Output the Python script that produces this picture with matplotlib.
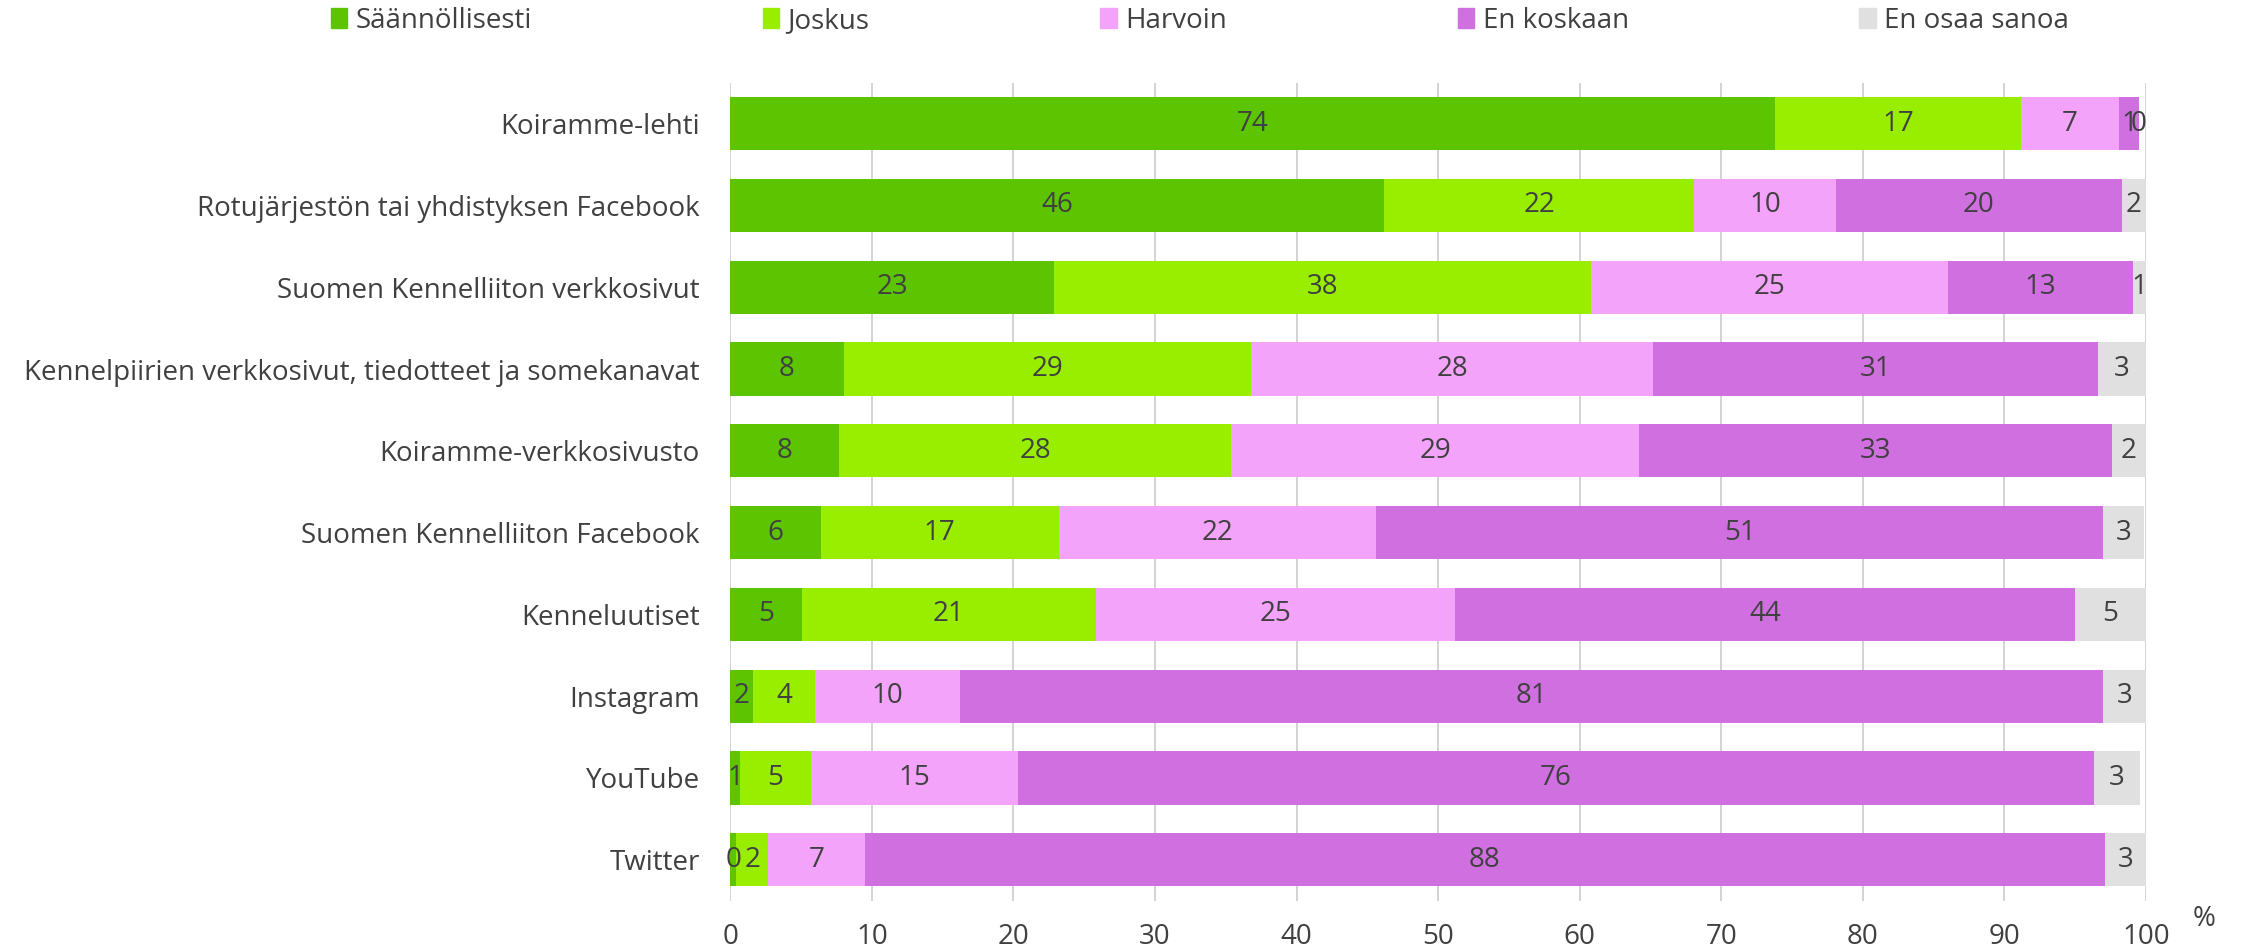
import matplotlib.pyplot as plt
from matplotlib.patches import Patch

plt.rcParams['font.family'] = ['Open Sans', 'DejaVu Sans']

categories = ["Koiramme-lehti",
              "Rotujärjestön tai yhdistyksen Facebook",
              "Suomen Kennelliiton verkkosivut",
              "Kennelpiirien verkkosivut, tiedotteet ja somekanavat",
              "Koiramme-verkkosivusto",
              "Suomen Kennelliiton Facebook",
              "Kenneluutiset",
              "Instagram",
              "YouTube",
              "Twitter"]
series_names = ["Säännöllisesti", "Joskus", "Harvoin", "En koskaan", "En osaa sanoa"]

saannollisesti = [73.8, 46.2, 22.9, 8.0, 7.7, 6.4, 5.1, 1.6, 0.7, 0.4]
joskus = [17.4, 21.9, 37.9, 28.8, 27.7, 16.8, 20.7, 4.4, 5.0, 2.3]
harvoin = [6.9, 10.0, 25.2, 28.4, 28.8, 22.4, 25.4, 10.2, 14.6, 6.8]
en_koskaan = [1.4, 20.2, 13.1, 31.4, 33.4, 51.4, 43.8, 80.8, 76.0, 87.6]
en_osaa = [0.0, 1.7, 0.9, 3.4, 2.4, 2.9, 5.0, 3.0, 3.3, 2.9]

x_ticks = [0, 10, 20, 30, 40, 50, 60, 70, 80, 90, 100]

colors = ["#5CC400", "#99EE00", "#F3A4FA", "#D070E0", "#E0E0E0"]
text_col = "#404040"
fs = 20

fig = plt.figure(figsize=(22.47, 9.52), dpi=100)
ax = fig.add_axes([0.325, 0.054, 0.630, 0.859])

y = list(range(len(categories)))
left = [0.0] * len(categories)
for name, vals, col in zip(series_names,
                           [saannollisesti, joskus, harvoin, en_koskaan, en_osaa],
                           colors):
    bars = ax.barh(y, vals, left=left, height=0.65, color=col, label=name, zorder=2)
    ax.bar_label(bars, labels=[f"{v:.0f}" for v in vals], label_type='center',
                 color=text_col, fontsize=fs)
    left = [a + b for a, b in zip(left, vals)]

ax.set_ylim(9.5, -0.5)
ax.set_xlim(0, 100)
ax.set_yticks(y)
ax.set_yticklabels(categories, fontsize=fs, color=text_col)
ax.set_xticks(x_ticks)
ax.set_xticklabels([str(t) for t in x_ticks], fontsize=fs, color=text_col)
ax.tick_params(axis='both', length=0)
ax.tick_params(axis='x', pad=16)
ax.tick_params(axis='y', pad=22)
ax.grid(axis='x', color='#D0D0D0', linewidth=1.3, zorder=0)
for s in ax.spines.values():
    s.set_visible(False)

fig.text(0.981, 0.035, "%", fontsize=fs, color=text_col, ha='center', va='center')

handles = [Patch(color=c) for c in colors]
fig.legend(handles, series_names, loc='center', bbox_to_anchor=(0.534, 0.978), ncol=5,
           frameon=False, fontsize=fs, labelcolor=text_col, columnspacing=8.3,
           handlelength=0.6, handleheight=0.75, handletextpad=0.3)

fig.savefig("out.png", dpi=100)
